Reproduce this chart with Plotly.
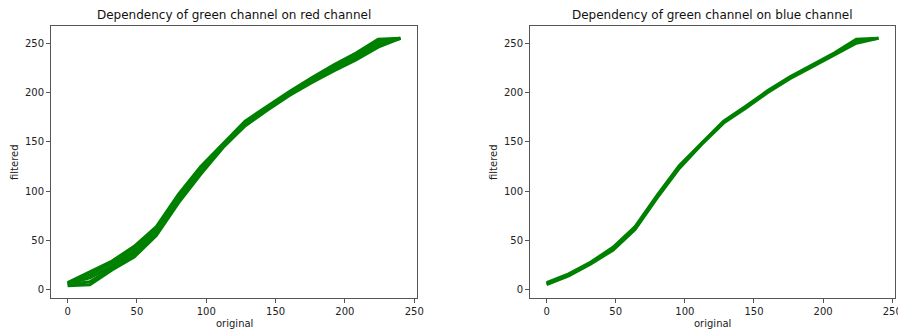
import plotly.graph_objects as go

# ---- data ----
x_vals = [0, 16, 32, 48, 64, 80, 96, 112, 128, 144, 160, 176, 192, 208, 224, 240]

red_l1 = [7, 18, 29, 44, 64, 97, 125, 148, 171, 186, 201, 215, 228, 240, 254, 255]
red_l2 = [6, 15, 27, 42, 62, 95, 123, 147, 170, 185, 200, 214, 227, 239, 252, 255]
red_l3 = [6, 12, 24, 39, 59, 93, 121, 146, 169, 184, 199, 213, 226, 237, 250, 255]
red_l4 = [5, 8, 22, 36, 57, 90, 119, 145, 167, 183, 198, 211, 224, 235, 248, 255]
red_l5 = [4, 5, 20, 33, 55, 88, 117, 144, 166, 182, 197, 210, 222, 233, 246, 255]

blue_l1 = [7, 16, 28, 43, 64, 96, 126, 149, 171, 186, 202, 216, 228, 240, 254, 255]
blue_l2 = [6, 15, 27, 41, 62, 94, 124, 148, 170, 185, 201, 215, 227, 239, 252, 255]
blue_l3 = [5, 14, 26, 40, 61, 93, 123, 147, 169, 184, 200, 214, 226, 238, 250, 255]

tick_vals = [0, 50, 100, 150, 200, 250]

titles = ["Dependency of green channel on red channel",
          "Dependency of green channel on blue channel"]
x_label = "original"
y_label = "filtered"

# ---- figure ----
W, H = 898, 331
fig = go.Figure()

green = "#008000"
for ys in [red_l1, red_l2, red_l3, red_l4, red_l5]:
    fig.add_trace(go.Scatter(x=x_vals, y=ys, mode="lines", xaxis="x", yaxis="y",
                             line=dict(color=green, width=3), showlegend=False,
                             hoverinfo="skip"))
for ys in [blue_l1, blue_l2, blue_l3]:
    fig.add_trace(go.Scatter(x=x_vals, y=ys, mode="lines", xaxis="x2", yaxis="y2",
                             line=dict(color=green, width=3), showlegend=False,
                             hoverinfo="skip"))

left_dom = [51 / W, 417 / W]
right_dom = [530 / W, 895 / W]
y_dom = [(H - 298) / H, (H - 26) / H]

axis_common = dict(
    showline=True, mirror=True, linecolor="#555", linewidth=1,
    ticks="outside", ticklen=4, tickcolor="#555", tickwidth=1,
    showgrid=False, zeroline=False, automargin=False,
    ticklabeloverflow="allow",
    tickfont=dict(family="DejaVu Sans", size=10, color="#222"),
    tickvals=tick_vals,
)

fig.update_layout(
    width=W, height=H,
    margin=dict(l=0, r=0, t=0, b=0, autoexpand=False),
    paper_bgcolor="white", plot_bgcolor="white",
    xaxis=dict(domain=left_dom, range=[-12, 252], anchor="y", **axis_common),
    yaxis=dict(domain=y_dom, range=[-8.5, 267.5], anchor="x", **axis_common),
    xaxis2=dict(domain=right_dom, range=[-12, 252], anchor="y2", **axis_common),
    yaxis2=dict(domain=y_dom, range=[-8.5, 267.5], anchor="x2", **axis_common),
)

ann_font = dict(family="DejaVu Sans", size=12, color="#111")
lab_font = dict(family="DejaVu Sans", size=10, color="#222")
annotations = []
for dom, title in [(left_dom, titles[0]), (right_dom, titles[1])]:
    cx = (dom[0] + dom[1]) / 2
    annotations.append(dict(text=title, x=cx, y=(H - 15) / H, xref="paper", yref="paper",
                            showarrow=False, font=ann_font, xanchor="center", yanchor="middle"))
    annotations.append(dict(text=x_label, x=cx, y=(H - 323) / H, xref="paper", yref="paper",
                            showarrow=False, font=lab_font, xanchor="center", yanchor="middle"))
    annotations.append(dict(text=y_label, x=(dom[0] * W - 37) / W, y=(y_dom[0] + y_dom[1]) / 2,
                            xref="paper", yref="paper", textangle=-90,
                            showarrow=False, font=lab_font, xanchor="center", yanchor="middle"))
fig.update_layout(annotations=annotations)

fig.write_html("out.html",
               config={"displayModeBar": False, "staticPlot": True},
               post_script="document.body.style.margin='0px';document.body.style.overflow='hidden';")
